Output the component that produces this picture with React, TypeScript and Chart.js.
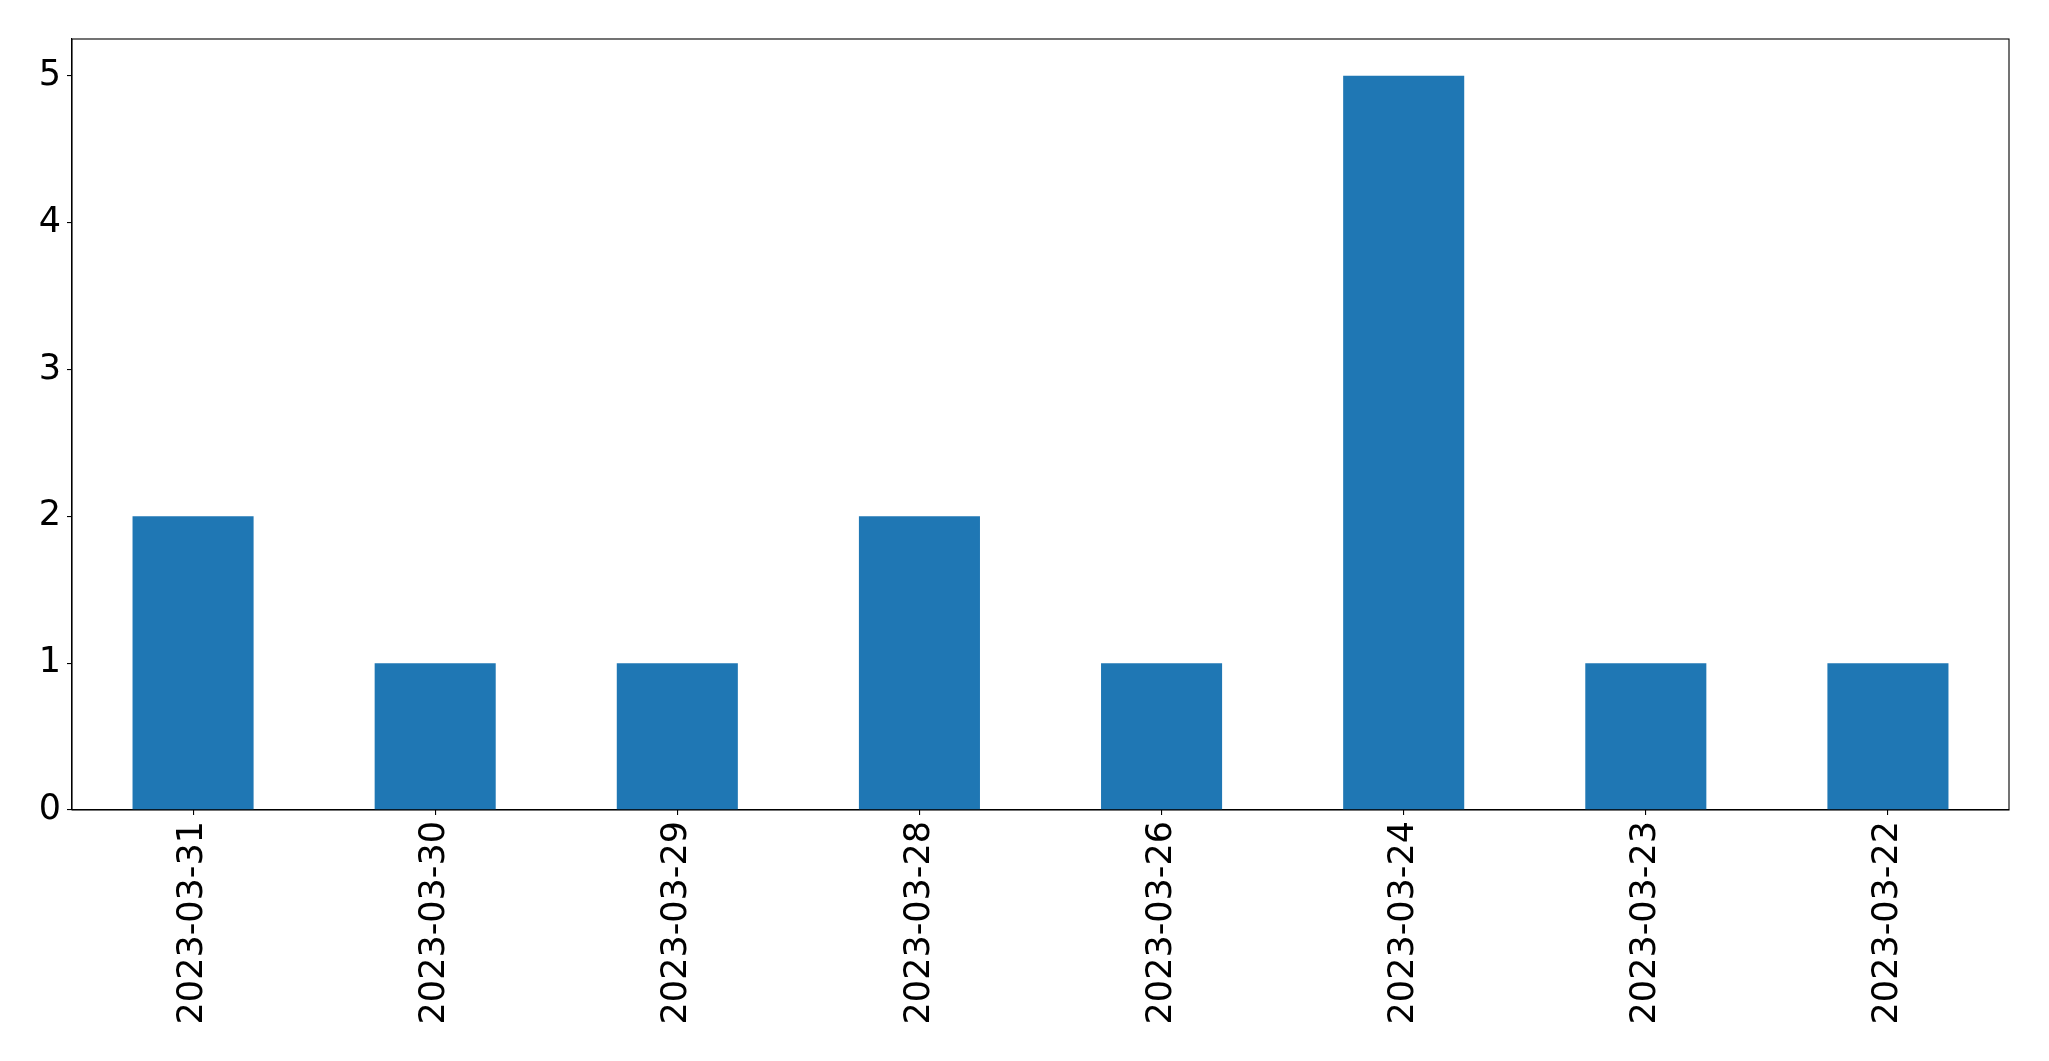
import React, { useEffect, useRef } from "react";
import { Chart, registerables } from "chart.js";

Chart.register(...registerables);

const categories = [
  "2023-03-31",
  "2023-03-30",
  "2023-03-29",
  "2023-03-28",
  "2023-03-26",
  "2023-03-24",
  "2023-03-23",
  "2023-03-22",
];
const counts = [2, 1, 1, 2, 1, 5, 1, 1];
const yTicks = [0, 1, 2, 3, 4, 5];
const yMax = 5.25;

const FONT = "'DejaVu Sans', sans-serif";

const boxPlugin = {
  id: "box",
  afterDraw(chart: any) {
    const { ctx, chartArea } = chart;
    ctx.save();
    ctx.strokeStyle = "#000";
    ctx.lineWidth = 1.1;
    ctx.strokeRect(chartArea.left, chartArea.top, chartArea.right - chartArea.left, chartArea.bottom - chartArea.top);
    ctx.restore();
  },
};

export default function App() {
  const ref = useRef<HTMLCanvasElement | null>(null);
  useEffect(() => {
    if (!ref.current) return;
    const chart = new Chart(ref.current, {
      type: "bar",
      data: {
        labels: categories,
        datasets: [
          {
            data: counts,
            backgroundColor: "#1f77b4",
            borderWidth: 0,
            barPercentage: 0.5,
            categoryPercentage: 1,
          },
        ],
      },
      options: {
        animation: false,
        responsive: false,
        maintainAspectRatio: false,
        layout: { padding: { left: 0, top: 39, right: 40, bottom: 0 } },
        plugins: { legend: { display: false }, tooltip: { enabled: false } },
        scales: {
          x: {
            offset: true,
            grid: {
              display: true,
              offset: false,
              drawOnChartArea: false,
              drawTicks: true,
              tickLength: 5,
              tickColor: "#000",
              color: "#000",
              lineWidth: 1.1,
            },
            border: { display: true, color: "#000", width: 1.1 },
            ticks: {
              color: "#000",
              font: { family: FONT, size: 35 },
              maxRotation: 90,
              minRotation: 90,
              padding: 6,
              autoSkip: false,
            },
            afterFit(axis: any) {
              axis.height = 1061 - 810;
            },
          },
          y: {
            min: 0,
            max: yMax,
            grid: {
              display: true,
              drawOnChartArea: false,
              drawTicks: true,
              tickLength: 5,
              tickColor: "#000",
              color: "#000",
              lineWidth: 1.1,
            },
            border: { display: true, color: "#000", width: 1.1 },
            ticks: {
              color: "#000",
              font: { family: FONT, size: 35 },
              includeBounds: false,
              stepSize: 1,
              padding: 6,
            },
            afterBuildTicks(axis: any) {
              axis.ticks = yTicks.map((v) => ({ value: v }));
            },
            afterFit(axis: any) {
              axis.width = 72;
            },
          },
        },
      },
      plugins: [boxPlugin],
    });
    return () => chart.destroy();
  }, []);
  return (
    <div style={{ position: "absolute", left: 0, top: 0, width: 2049, height: 1061, background: "#fff" }}>
      <canvas ref={ref} width={2049} height={1061} style={{ width: 2049, height: 1061 }} />
    </div>
  );
}
